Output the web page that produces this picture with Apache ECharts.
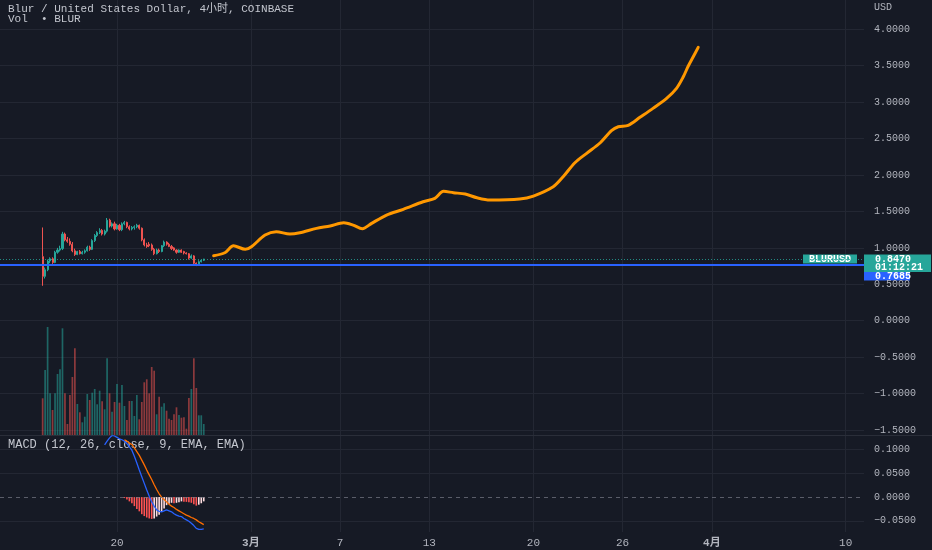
<!DOCTYPE html>
<html><head><meta charset="utf-8">
<script src="https://cdn.jsdelivr.net/npm/echarts@6/dist/echarts.min.js"></script>
<style>html,body{margin:0;padding:0;background:#161a25;}#c{width:932px;height:550px;}</style>
</head><body><div id="c"></div>
<script>
// ---------- data ----------
const candleStart = '2023-02-15 00:00';   // first 4h candle
const candleHours = 4;
const opens  = [0.88,0.61,0.70,0.82,0.85,0.80,0.94,0.97,0.99,1.19,1.11,1.09,1.05,0.96,0.91,0.95,0.92,0.94,0.96,1.01,0.98,1.10,1.17,1.21,1.24,1.19,1.23,1.38,1.30,1.33,1.26,1.31,1.25,1.33,1.35,1.29,1.26,1.28,1.29,1.31,1.27,1.11,1.04,1.05,1.04,0.98,0.92,0.97,0.95,1.03,1.08,1.05,1.02,1.00,0.97,0.94,0.97,0.95,0.93,0.92,0.86,0.89,0.79,0.77,0.81,0.83];
const highs  = [1.28,0.73,0.84,0.87,0.87,0.96,1.00,1.03,1.22,1.21,1.15,1.13,1.08,0.99,0.96,0.97,0.96,0.98,1.03,1.03,1.12,1.19,1.23,1.27,1.26,1.25,1.41,1.40,1.35,1.36,1.33,1.33,1.35,1.37,1.36,1.31,1.30,1.31,1.33,1.32,1.28,1.13,1.07,1.08,1.06,1.00,0.99,0.99,1.04,1.10,1.09,1.07,1.04,1.01,0.98,0.98,0.98,0.96,0.94,0.93,0.91,0.90,0.80,0.83,0.84,0.85];
const lows   = [0.48,0.58,0.68,0.79,0.78,0.79,0.92,0.95,0.97,1.09,1.07,1.03,0.94,0.89,0.90,0.91,0.91,0.92,0.95,0.96,0.97,1.08,1.15,1.19,1.17,1.17,1.21,1.28,1.28,1.24,1.25,1.23,1.23,1.31,1.27,1.24,1.24,1.25,1.27,1.25,1.09,1.02,1.00,1.01,0.96,0.90,0.91,0.93,0.94,1.01,1.03,1.01,0.97,0.96,0.92,0.93,0.93,0.91,0.91,0.84,0.85,0.77,0.75,0.76,0.80,0.82];
const closes = [0.61,0.70,0.82,0.85,0.80,0.94,0.97,0.99,1.19,1.11,1.09,1.05,0.96,0.91,0.95,0.92,0.94,0.96,1.01,0.98,1.10,1.17,1.21,1.24,1.19,1.23,1.38,1.30,1.33,1.26,1.31,1.25,1.33,1.35,1.29,1.26,1.28,1.29,1.31,1.27,1.11,1.04,1.02,1.03,0.98,0.92,0.97,0.95,1.03,1.08,1.05,1.02,0.99,0.97,0.94,0.97,0.94,0.93,0.92,0.86,0.89,0.79,0.77,0.81,0.83,0.847];
const volumes = [36.7,65,108,41.7,25,41.7,61,65.7,106.7,41.7,11,40,58,86.7,31,22.7,12.7,18.3,41,35,42.3,46,30.7,44.3,33.7,25.7,76.7,41.7,23.3,33,51,32.3,50,29,15,34,34,19,40,15.7,33,52.7,55.7,41.7,68,64.3,20.7,38.3,28.3,31.7,24.3,16.3,15,20.7,27.7,20,17.3,17.7,6.3,37,46,76.7,47,19.7,19.7,11];

const macdStartIndex = 25;
const macdLine = [0.110,0.118,0.125,0.130,0.129,0.126,0.123,0.121,0.118,0.113,0.106,0.099,0.086,0.072,0.057,0.043,0.029,0.015,0.002,-0.010,-0.019,-0.027,-0.030,-0.031,-0.029,-0.027,-0.029,-0.031,-0.035,-0.038,-0.040,-0.041,-0.045,-0.048,-0.051,-0.055,-0.060,-0.066,-0.068,-0.068,-0.067];
const signalStartIndex = 33;
const signalLine = [0.121,0.118,0.114,0.111,0.104,0.096,0.088,0.078,0.068,0.057,0.047,0.037,0.026,0.016,0.007,0.000,-0.005,-0.010,-0.015,-0.019,-0.022,-0.026,-0.029,-0.032,-0.035,-0.038,-0.040,-0.043,-0.045,-0.048,-0.052,-0.055,-0.058];
const histogram = [-0.002,-0.005,-0.009,-0.013,-0.019,-0.025,-0.030,-0.036,-0.040,-0.043,-0.045,-0.046,-0.045,-0.041,-0.037,-0.031,-0.024,-0.017,-0.014,-0.012,-0.013,-0.012,-0.011,-0.009,-0.010,-0.010,-0.011,-0.012,-0.015,-0.018,-0.016,-0.013,-0.009];

const projTimes = ['2023-02-26 12:00','2023-02-27 06:00','2023-02-27 20:00','2023-02-28 15:00','2023-03-01 01:00','2023-03-01 23:00','2023-03-02 17:00','2023-03-03 15:00','2023-03-04 07:00','2023-03-05 10:00','2023-03-06 08:00','2023-03-07 06:00','2023-03-07 21:00','2023-03-08 12:00','2023-03-09 03:00','2023-03-10 03:00','2023-03-11 06:00','2023-03-12 14:00','2023-03-13 09:00','2023-03-13 23:00','2023-03-14 15:00','2023-03-15 10:00','2023-03-16 05:00','2023-03-17 02:00','2023-03-19 02:00','2023-03-20 00:00','2023-03-21 08:00','2023-03-22 00:00','2023-03-22 19:00','2023-03-23 14:00','2023-03-24 12:00','2023-03-25 06:00','2023-03-25 17:00','2023-03-26 09:00','2023-03-27 04:00','2023-03-28 01:00','2023-03-28 23:00','2023-03-29 15:00','2023-03-30 02:00','2023-03-30 10:00','2023-03-30 18:00','2023-03-31 02:00'];
const projPrices = [0.892,0.933,1.029,0.980,1.016,1.176,1.222,1.190,1.208,1.268,1.300,1.345,1.313,1.263,1.337,1.451,1.529,1.633,1.680,1.776,1.757,1.739,1.688,1.657,1.670,1.711,1.839,1.976,2.169,2.298,2.443,2.608,2.663,2.682,2.792,2.915,3.052,3.190,3.349,3.496,3.623,3.752];

const lastPrice = 0.8470;
const countdown = '01:12:21';
const hLinePrice = 0.7685;
const symbolName = 'BLURUSD';

const tickDates  = ['2023-02-20','2023-03-01','2023-03-07','2023-03-13','2023-03-20','2023-03-26','2023-04-01','2023-04-10'];
const tickLabels = ['20','3月','7','13','20','26','4月','10'];
const priceTicks = [4, 3.5, 3, 2.5, 2, 1.5, 1, 0.5, 0, -0.5, -1, -1.5];
const macdTicks  = [0.1, 0.05, 0, -0.05];
const viewStart = '2023-02-12 03:10', viewEnd = '2023-04-11 05:35';

// ---------- helpers / styles ----------
function ts(s){ const p = s.split(' '); return Date.parse(p[0] + 'T' + (p[1] || '00:00') + ':00Z'); }
const t0 = ts(candleStart);
const candleTime = i => t0 + i * candleHours * 3600e3;
const tickTimes = tickDates.map(ts);
const BG = '#161a25', GRID = '#232733', TXT = '#b2b5be', TITLE = '#c3c6ce';
const UP = '#26a69a', DOWN = '#ef5350';
const MONO = '"Liberation Mono","DejaVu Sans Mono","Noto Sans CJK SC",monospace';
const fmt = v => (v < 0 ? '\u2212' : '') + Math.abs(v).toFixed(4);

const chart = echarts.init(document.getElementById('c'), null, {renderer: 'canvas'});

const xAxes = [0, 1, 2].map(g => ({
  type: 'value', gridIndex: g, min: ts(viewStart), max: ts(viewEnd),
  axisLine: {show: false},
  axisTick: {show: false, customValues: tickTimes},
  splitLine: {show: g !== 1, customValues: tickTimes, lineStyle: {color: GRID, width: 1}},
  axisLabel: {
    show: g === 2, customValues: tickTimes, margin: 6,
    color: TXT, fontSize: 11, fontFamily: MONO,
    formatter: v => {
      let k = 0, best = Infinity;
      tickTimes.forEach((t, j) => { const d = Math.abs(t - v); if (d < best) { best = d; k = j; } });
      const s = tickLabels[k];
      return s.indexOf('月') >= 0 ? '{b|' + s + '}' : s;
    },
    rich: {b: {fontWeight: 'bold', color: TXT, fontSize: 11, fontFamily: MONO}}
  }
}));

const histColors = histogram.map((h, k) => {
  const prev = k > 0 ? histogram[k - 1] : h;
  if (h >= 0) return h < prev ? '#b2dfdb' : '#26a69a';
  return h > prev ? '#ffdde0' : '#ff5252';
});

const option = {
  backgroundColor: BG,
  animation: false,
  grid: [
    {left: 0, top: 0, width: 864, height: 435},
    {left: 0, top: 325, width: 864, height: 110},
    {left: 0, top: 436, width: 864, height: 96}
  ],
  xAxis: xAxes,
  yAxis: [
    {type: 'value', gridIndex: 0, position: 'right', min: -1.568, max: 4.402,
     axisLine: {show: false}, axisTick: {show: false, customValues: priceTicks},
     splitLine: {show: true, customValues: priceTicks, lineStyle: {color: GRID}},
     axisLabel: {customValues: priceTicks, formatter: fmt, color: TXT, fontSize: 10, fontFamily: MONO, margin: 10}},
    {type: 'value', gridIndex: 1, min: 0, max: 110, show: false, splitLine: {show: false}},
    {type: 'value', gridIndex: 2, position: 'right', min: -0.0736, max: 0.1289,
     axisLine: {show: false}, axisTick: {show: false, customValues: [0.1, 0.05, -0.05]},
     splitLine: {show: true, customValues: [0.1, 0.05, -0.05], lineStyle: {color: GRID}},
     axisLabel: {customValues: macdTicks, formatter: fmt, color: TXT, fontSize: 10, fontFamily: MONO, margin: 10}}
  ],
  series: [
    {type: 'bar', name: 'Vol', xAxisIndex: 1, yAxisIndex: 1, barWidth: 1.7, silent: true,
     data: volumes.map((v, i) => ({value: [candleTime(i), v],
       itemStyle: {color: closes[i] >= opens[i] ? 'rgba(38,166,154,0.55)' : 'rgba(239,83,80,0.55)'}}))},
    {type: 'candlestick', name: 'BLURUSD', xAxisIndex: 0, yAxisIndex: 0, barWidth: 1.6, silent: true,
     data: opens.map((o, i) => [candleTime(i), o, closes[i], lows[i], highs[i]]),
     itemStyle: {color: UP, color0: DOWN, borderColor: UP, borderColor0: DOWN, borderWidth: 1},
     markLine: {silent: true, symbol: 'none', animation: false, label: {show: false},
       data: [
         {yAxis: lastPrice, lineStyle: {color: UP, type: [1, 2], width: 1, opacity: 0.8}},
         {yAxis: hLinePrice, lineStyle: {color: '#2962ff', type: 'solid', width: 2}}
       ]}},
    {type: 'line', name: 'projection', xAxisIndex: 0, yAxisIndex: 0, z: 5, smooth: 0.3,
     symbol: 'none', silent: true,
     data: projTimes.map((s, k) => [ts(s), projPrices[k]]),
     lineStyle: {color: '#ff9800', width: 3, cap: 'round', join: 'round'}},
    {type: 'bar', name: 'Histogram', xAxisIndex: 2, yAxisIndex: 2, barWidth: 1.6, silent: true,
     data: histogram.map((h, k) => ({value: [candleTime(signalStartIndex + k), h], itemStyle: {color: histColors[k]}})),
     markLine: {silent: true, symbol: 'none', animation: false, label: {show: false},
       data: [{yAxis: 0, lineStyle: {color: 'rgba(120,123,134,0.7)', type: [4, 4], width: 1}}]}},
    {type: 'line', name: 'MACD', xAxisIndex: 2, yAxisIndex: 2, symbol: 'none', silent: true, z: 4,
     data: macdLine.map((v, k) => [candleTime(macdStartIndex + k), v]),
     lineStyle: {color: '#2962ff', width: 1.3}},
    {type: 'line', name: 'Signal', xAxisIndex: 2, yAxisIndex: 2, symbol: 'none', silent: true, z: 4,
     data: signalLine.map((v, k) => [candleTime(signalStartIndex + k), v]),
     lineStyle: {color: '#ff6d00', width: 1.3}}
  ]
};
chart.setOption(option);

const yLast = chart.convertToPixel({yAxisIndex: 0}, lastPrice);
const txt = (x, y, text, extra) => ({type: 'text', x: x, y: y, silent: true,
  style: Object.assign({text: text, fill: TITLE, font: '12px ' + MONO, textVerticalAlign: 'middle', textAlign: 'left'}, extra || {})});

chart.setOption({graphic: [
  txt(8, 9.5, 'Blur / United States Dollar, 4小时, COINBASE', {font: '11px ' + MONO}),
  txt(8, 19.5, 'Vol  • BLUR', {font: '11px ' + MONO}),
  txt(8, 445, 'MACD (12, 26, close, 9, EMA, EMA)'),
  txt(874, 7, 'USD', {fill: TXT, font: '10px ' + MONO}),
  {type: 'line', silent: true, shape: {x1: 0, y1: 435.5, x2: 932, y2: 435.5}, style: {stroke: '#2a2e39', lineWidth: 1}},
  {type: 'rect', silent: true, shape: {x: 803, y: yLast - 4.5, width: 54, height: 9}, style: {fill: UP}},
  txt(830, yLast, symbolName, {fill: '#ffffff', font: 'bold 10px ' + MONO, textAlign: 'center'}),
  {type: 'rect', silent: true, shape: {x: 864, y: yLast - 4.5, width: 67, height: 17.5}, style: {fill: UP}},
  txt(875, yLast, lastPrice.toFixed(4), {fill: '#ffffff', font: 'bold 10px ' + MONO}),
  txt(875, yLast + 8, countdown, {fill: '#ffffff', font: 'bold 10px ' + MONO}),
  {type: 'rect', silent: true, shape: {x: 864, y: yLast + 13, width: 46, height: 8.5}, style: {fill: '#2962ff'}},
  txt(875, yLast + 17.3, hLinePrice.toFixed(4), {fill: '#ffffff', font: 'bold 10px ' + MONO})
]});
</script>
</body></html>
